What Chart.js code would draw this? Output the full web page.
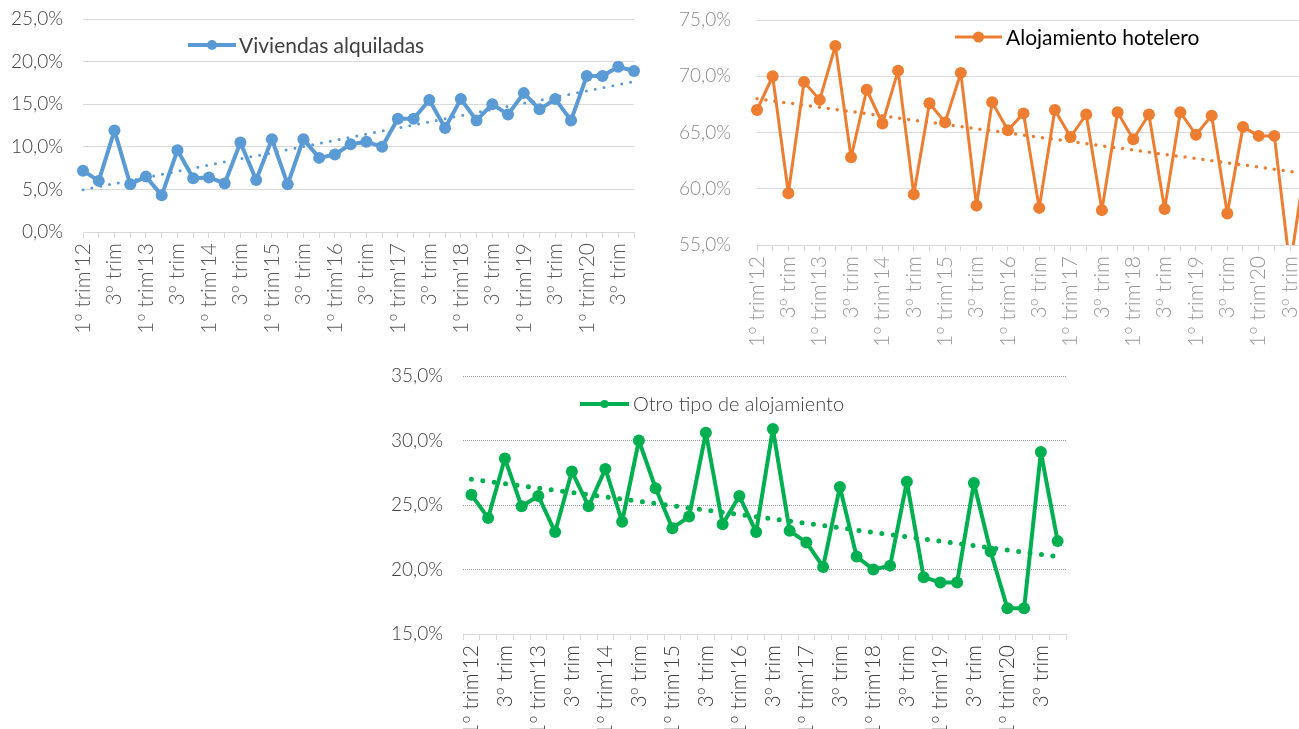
<!DOCTYPE html>
<html lang="es">
<head>
<meta charset="utf-8">
<title>Pernoctaciones por tipo de alojamiento</title>
<script src="https://cdn.jsdelivr.net/npm/chart.js@4.4.1/dist/chart.umd.min.js"></script>
<style>
  html, body { margin: 0; padding: 0; background: #fff; }
  body { width: 1299px; height: 729px; overflow: hidden; position: relative; }
  canvas { position: absolute; }
  #c1 { left: 0; top: 0; }
  #c2 { left: 650px; top: 0; }
  #c3 { left: 380px; top: 356px; }
</style>
</head>
<body>
<canvas id="c1" width="650" height="362"></canvas>
<canvas id="c2" width="672" height="362"></canvas>
<canvas id="c3" width="700" height="373"></canvas>
<script>
// Trimestres 2012-2020
const years = ['12', '13', '14', '15', '16', '17', '18', '19', '20'];
const categories = [];
years.forEach(y => {
    categories.push("1º trim'" + y, '2º trim', '3º trim', '4º trim');
});

// Cuota (%) por tipo de alojamiento
const viviendas = [7.2, 6.0, 11.9, 5.6, 6.5, 4.3, 9.6, 6.3, 6.4, 5.7, 10.5, 6.1,
    10.9, 5.6, 10.9, 8.7, 9.1, 10.3, 10.6, 10.0, 13.3, 13.3, 15.5, 12.2,
    15.6, 13.1, 15.0, 13.8, 16.3, 14.4, 15.6, 13.1, 18.3, 18.3, 19.4, 18.9];
const hotelero = [67.0, 70.0, 59.6, 69.5, 67.9, 72.7, 62.8, 68.8, 65.8, 70.5, 59.5, 67.6,
    65.9, 70.3, 58.5, 67.7, 65.2, 66.7, 58.3, 67.0, 64.6, 66.6, 58.1, 66.8,
    64.4, 66.6, 58.2, 66.8, 64.8, 66.5, 57.8, 65.5, 64.7, 64.7, 53.0, 62.5];
const otro = [25.8, 24.0, 28.6, 24.9, 25.7, 22.9, 27.6, 24.9, 27.8, 23.7, 30.0, 26.3,
    23.2, 24.1, 30.6, 23.5, 25.7, 22.9, 30.9, 23.0, 22.1, 20.2, 26.4, 21.0,
    20.0, 20.3, 26.8, 19.4, 19.0, 19.0, 26.7, 21.4, 17.0, 17.0, 29.1, 22.2];

// Extremos de las líneas de tendencia (inicio, fin)
const trendViviendas = [4.95, 17.65];
const trendHotelero = [68.0, 61.35];
const trendOtro = [27.0, 21.0];

// Rangos de los ejes Y
const yViviendas = [0, 25];
const yHotelero = [55, 75];
const yOtro = [15, 35];

function pct(v) {
    return Number(v).toFixed(1).replace('.', ',') + '%';
}

function trendData(ends) {
    return categories.map((c, i) => {
        if (i === 0) return ends[0];
        if (i === categories.length - 1) return ends[1];
        return null;
    });
}

// Leyenda tipo Excel: línea con marcador y texto
const sampleLegend = {
    id: 'sampleLegend',
    afterDraw(chart, args, o) {
        const ctx = chart.ctx;
        ctx.save();
        ctx.strokeStyle = o.color;
        ctx.lineWidth = o.lineWidth;
        ctx.beginPath();
        ctx.moveTo(o.x, o.y);
        ctx.lineTo(o.x + o.len, o.y);
        ctx.stroke();
        ctx.fillStyle = o.color;
        ctx.beginPath();
        ctx.arc(o.x + o.len / 2, o.y, o.r, 0, Math.PI * 2);
        ctx.fill();
        ctx.font = o.font;
        ctx.fillStyle = o.textColor;
        ctx.textAlign = 'left';
        ctx.textBaseline = 'middle';
        ctx.fillText(o.text, o.x + o.len + o.gap, o.y + 1);
        ctx.restore();
    }
};

function makeChart(id, cfg) {
    const min = cfg.range[0];
    const chart = new Chart(document.getElementById(id), {
        type: 'line',
        data: {
            labels: categories,
            datasets: [
                {
                    label: 'Tendencia',
                    data: trendData(cfg.trend),
                    borderColor: cfg.color,
                    borderWidth: cfg.trendWidth,
                    borderDash: [0, cfg.trendGap],
                    borderCapStyle: 'round',
                    pointRadius: 0,
                    spanGaps: true,
                    clip: cfg.clip
                },
                {
                    label: cfg.label,
                    data: cfg.values,
                    borderColor: cfg.color,
                    backgroundColor: cfg.color,
                    borderWidth: cfg.lineWidth,
                    borderJoinStyle: 'round',
                    pointRadius: cfg.pointRadius,
                    pointBorderWidth: 0,
                    pointBackgroundColor: cfg.color,
                    tension: 0,
                    clip: cfg.clip
                }
            ]
        },
        options: {
            responsive: false,
            animation: false,
            layout: { padding: Object.assign({}, cfg.padding) },
            plugins: {
                legend: { display: false },
                tooltip: { enabled: false },
                sampleLegend: cfg.legend
            },
            scales: {
                x: {
                    offset: cfg.offset,
                    grid: {
                        offset: cfg.offset,
                        drawOnChartArea: false,
                        drawTicks: true,
                        tickLength: 6,
                        tickColor: '#D9D9D9',
                        color: '#D9D9D9'
                    },
                    border: { display: true, color: '#D9D9D9', width: 1 },
                    ticks: {
                        autoSkip: false,
                        maxRotation: 90,
                        minRotation: 90,
                        padding: 5,
                        color: cfg.xColor,
                        font: { family: 'Lato', size: 21, weight: '300' },
                        callback: (v, i) => (i % 2 === 0 ? categories[i] : '')
                    },
                    afterFit: s => {
                        s.height = cfg.xHeight;
                        s.paddingLeft = 0;
                        s.paddingRight = 0;
                    }
                },
                y: {
                    min: cfg.range[0],
                    max: cfg.range[1],
                    ticks: {
                        stepSize: 5,
                        padding: cfg.yPad,
                        color: cfg.yColor,
                        font: { family: 'Lato', size: 19, weight: '300' },
                        callback: v => pct(v)
                    },
                    grid: {
                        drawTicks: false,
                        lineWidth: 1,
                        color: c => (c.tick && c.tick.value === min ? 'rgba(0,0,0,0)' : cfg.gridColor)
                    },
                    border: { display: false, dash: cfg.gridDash },
                    afterFit: s => {
                        s.width = cfg.yWidth;
                        s.paddingTop = 0;
                        s.paddingBottom = 0;
                    }
                }
            }
        },
        plugins: [sampleLegend]
    });

    // ajustar el área de trazado a la del original
    const a = chart.chartArea;
    const t = cfg.area;
    const p = Object.assign({}, cfg.padding);
    p.top += t.top - a.top;
    p.right += a.right - t.right;
    cfg.yWidth += t.left - a.left;
    cfg.xHeight += a.bottom - t.bottom;
    chart.options.layout.padding = p;
    chart.update();
    return chart;
}

makeChart('c1', {
    label: 'Viviendas alquiladas',
    values: viviendas,
    trend: trendViviendas,
    range: yViviendas,
    color: '#5B9BD5',
    lineWidth: 4,
    pointRadius: 6,
    trendWidth: 3,
    trendGap: 9,
    offset: false,
    clip: 8,
    area: { left: 83, top: 19, right: 634, bottom: 232 },
    padding: { top: 19, right: 16, left: 0, bottom: 0 },
    yWidth: 83,
    yPad: 20,
    xHeight: 130,
    xColor: '#595959',
    yColor: '#404040',
    gridColor: '#D9D9D9',
    gridDash: [],
    legend: {
        x: 188, y: 45, len: 48, r: 5, lineWidth: 4, gap: 3,
        color: '#5B9BD5', textColor: '#404040',
        font: '21px Lato', text: 'Viviendas alquiladas'
    }
});

makeChart('c2', {
    label: 'Alojamiento hotelero',
    values: hotelero,
    trend: trendHotelero,
    range: yHotelero,
    color: '#ED7D31',
    lineWidth: 3,
    pointRadius: 6,
    trendWidth: 3.5,
    trendGap: 9,
    offset: false,
    clip: { left: 8, top: 8, right: 8, bottom: 0 },
    area: { left: 107, top: 20, right: 655.7, bottom: 245 },
    padding: { top: 20, right: 16, left: 0, bottom: 0 },
    yWidth: 107,
    yPad: 26,
    xHeight: 117,
    xColor: '#999999',
    yColor: '#8C8C8C',
    gridColor: '#D9D9D9',
    gridDash: [],
    legend: {
        x: 305, y: 37, len: 47, r: 5.5, lineWidth: 3, gap: 4,
        color: '#ED7D31', textColor: '#000000',
        font: '21px Lato', text: 'Alojamiento hotelero'
    }
});

makeChart('c3', {
    label: 'Otro tipo de alojamiento',
    values: otro,
    trend: trendOtro,
    range: yOtro,
    color: '#00B050',
    lineWidth: 4,
    pointRadius: 6,
    trendWidth: 5,
    trendGap: 11.5,
    offset: true,
    clip: 8,
    area: { left: 83, top: 20, right: 686, bottom: 278 },
    padding: { top: 20, right: 14, left: 0, bottom: 0 },
    yWidth: 83,
    yPad: 20,
    xHeight: 95,
    xColor: '#404040',
    yColor: '#404040',
    gridColor: '#9A9A9A',
    gridDash: [1, 1],
    legend: {
        x: 200, y: 48, len: 49, r: 4, lineWidth: 4, gap: 4,
        color: '#00B050', textColor: '#404040',
        font: '300 20px Lato', text: 'Otro tipo de alojamiento'
    }
});
</script>
</body>
</html>
